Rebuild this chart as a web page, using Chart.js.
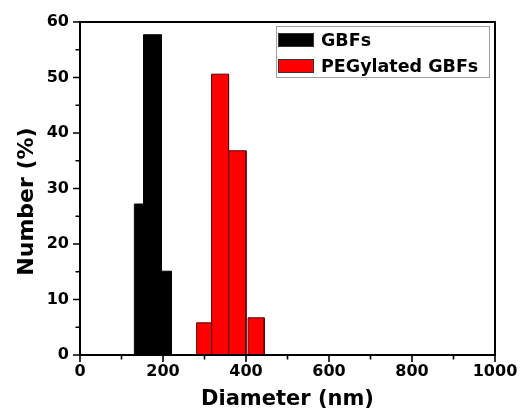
<!DOCTYPE html>
<html>
<head>
<meta charset="utf-8">
<script src="https://cdn.jsdelivr.net/npm/chart.js@4/dist/chart.umd.min.js"></script>
<style>
html,body{margin:0;padding:0;background:#fff;}
#wrap{width:522px;height:415px;}
</style>
</head>
<body>
<div id="wrap"><canvas id="c" width="522" height="415"></canvas></div>
<script>
// ---- data ----
const seriesNames = ["GBFs", "PEGylated GBFs"];
const seriesColors = ["#000000", "#ff0000"];
// bin edges (nm) and heights (%)
const gbfsLeft   = [131, 153, 196];
const gbfsRight  = [153, 196, 220];
const gbfsValues = [27.2, 57.7, 15.1];
const pegLeft    = [281, 317, 358, 405];
const pegRight   = [317, 358, 400, 444];
const pegValues  = [5.8, 50.6, 36.8, 6.7];
const xTickValues = [0, 200, 400, 600, 800, 1000];
const yTickValues = [0, 10, 20, 30, 40, 50, 60];
const xTitle = 'Diameter (nm)';
const yTitle = 'Number (%)';

const FONT = "'DejaVu Sans', sans-serif";

function barDatasets(left, right, values, color, label) {
  return values.map((v, i) => ({
    label: label,
    data: [{x: left[i], y: 0}, {x: left[i], y: v}, {x: right[i], y: v}, {x: right[i], y: 0}],
    showLine: true,
    fill: 'origin',
    backgroundColor: color,
    borderColor: color === "#000000" ? "#000000" : "#5a0000",
    borderWidth: 1,
    pointRadius: 0,
    tension: 0
  }));
}

const datasets = [
  ...barDatasets(gbfsLeft, gbfsRight, gbfsValues, seriesColors[0], seriesNames[0]),
  ...barDatasets(pegLeft, pegRight, pegValues, seriesColors[1], seriesNames[1])
];

const framePlugin = {
  id: 'frame',
  afterDraw(chart) {
    const ctx = chart.ctx;
    const a = chart.chartArea;
    const xs = chart.scales.x, ys = chart.scales.y;
    ctx.save();
    ctx.strokeStyle = '#000';
    ctx.lineWidth = 2;
    ctx.strokeRect(a.left, a.top, a.right - a.left, a.bottom - a.top);
    ctx.lineWidth = 1.6;
    ctx.beginPath();
    for (let v = 0; v <= 1000; v += 100) {
      const px = xs.getPixelForValue(v);
      const len = (v % 200 === 0) ? 7 : 4.5;
      ctx.moveTo(px, a.bottom);
      ctx.lineTo(px, a.bottom + len);
    }
    for (let v = 0; v <= 60; v += 5) {
      const py = ys.getPixelForValue(v);
      const len = (v % 10 === 0) ? 7 : 4.5;
      ctx.moveTo(a.left, py);
      ctx.lineTo(a.left - len, py);
    }
    ctx.stroke();
    // y axis title
    ctx.save();
    ctx.translate(27, (a.top + a.bottom) / 2 + 13);
    ctx.rotate(-Math.PI / 2);
    ctx.font = "bold 22px " + FONT;
    ctx.fillStyle = '#000';
    ctx.textAlign = 'center';
    ctx.textBaseline = 'middle';
    ctx.fillText(yTitle, 0, 0);
    ctx.restore();
    // legend
    const bx = a.right - 219, by = a.top + 4, bw = 213, bh = 51;
    ctx.lineWidth = 1;
    ctx.strokeStyle = '#a0a0a0';
    ctx.strokeRect(bx + 0.5, by + 0.5, bw, bh);
    ctx.font = "bold 17.5px " + FONT;
    ctx.textBaseline = 'middle';
    ctx.textAlign = 'left';
    seriesNames.forEach((name, i) => {
      const cy = by + 14 + i * 26;
      ctx.fillStyle = seriesColors[i];
      ctx.fillRect(bx + 2, cy - 7, 36, 14);
      ctx.strokeStyle = '#333';
      ctx.lineWidth = 1;
      ctx.strokeRect(bx + 2.5, cy - 6.5, 35, 13);
      ctx.fillStyle = '#000';
      ctx.fillText(name, bx + 45, cy + 1);
    });
    ctx.restore();
  }
};

new Chart(document.getElementById('c'), {
  type: 'scatter',
  data: { datasets },
  options: {
    responsive: false,
    animation: false,
    layout: { padding: { top: 22, right: 27, left: 0, bottom: 0 } },
    plugins: { legend: { display: false }, tooltip: { enabled: false } },
    scales: {
      x: {
        type: 'linear', min: 0, max: 1000,
        afterFit(s) { s.height = 60; s.paddingLeft = 0; s.paddingRight = 0; },
        afterBuildTicks(s) { s.ticks = xTickValues.map(v => ({value: v})); },
        grid: { display: false, drawTicks: false },
        border: { display: false },
        ticks: { color: '#000', padding: 7, callback: v => String(v),
                 font: { family: FONT, weight: 'bold', size: 16 } },
        title: { display: true, text: xTitle, color: '#000', padding: { top: 0, bottom: 3 },
                 font: { family: FONT, weight: 'bold', size: 21 } }
      },
      y: {
        type: 'linear', min: 0, max: 60,
        afterFit(s) { s.width = 80; s.paddingTop = 0; s.paddingBottom = 0; },
        afterBuildTicks(s) { s.ticks = yTickValues.map(v => ({value: v})); },
        grid: { display: false, drawTicks: false },
        border: { display: false },
        ticks: { color: '#000', padding: 11, callback: v => String(v),
                 font: { family: FONT, weight: 'bold', size: 16 } },
        title: { display: false }
      }
    }
  },
  plugins: [framePlugin]
});
</script>
</body>
</html>
